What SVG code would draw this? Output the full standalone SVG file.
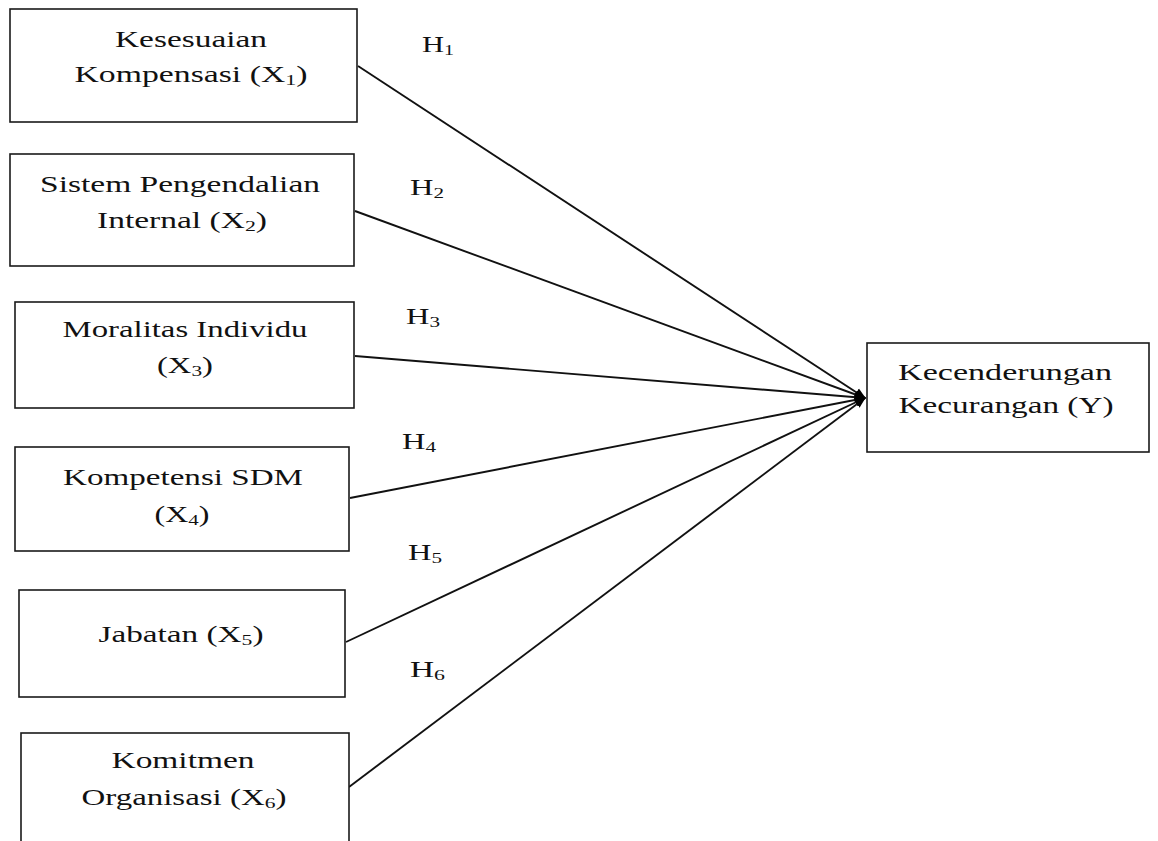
<svg xmlns="http://www.w3.org/2000/svg" width="1158" height="841" viewBox="0 0 1158 841">
<style>
.box{fill:#fff;stroke:#1a1a1a;stroke-width:1.6}
.t{font-family:"Liberation Serif","Times New Roman",serif;font-size:23px;fill:#111;text-anchor:middle}
.h{font-family:"Liberation Serif","Times New Roman",serif;font-size:23px;fill:#111}
.sub{font-size:15px}
.c{stroke:#111;stroke-width:1.9;fill:none}
</style>
<defs>
<marker id="ah" viewBox="0 0 10 10" refX="9" refY="5" markerWidth="6" markerHeight="6" markerUnits="strokeWidth" orient="auto">
<path d="M0,1 L10,5 L0,9 Z" fill="#000"/>
</marker>
</defs>
<rect width="1158" height="841" fill="#fff"/>
<g id="connectors">
<line class="c" x1="358" y1="66" x2="865" y2="398" marker-end="url(#ah)"/>
<line class="c" x1="355" y1="211" x2="865" y2="398" marker-end="url(#ah)"/>
<line class="c" x1="355" y1="356" x2="865" y2="398" marker-end="url(#ah)"/>
<line class="c" x1="350" y1="498" x2="865" y2="398" marker-end="url(#ah)"/>
<line class="c" x1="346" y1="642" x2="865" y2="398" marker-end="url(#ah)"/>
<line class="c" x1="349" y1="787" x2="865" y2="398" marker-end="url(#ah)"/>
<text class="h" x="422" y="52" textLength="32" lengthAdjust="spacingAndGlyphs">H<tspan class="sub" dy="3">1</tspan></text>
<text class="h" x="410" y="195" textLength="34" lengthAdjust="spacingAndGlyphs">H<tspan class="sub" dy="3">2</tspan></text>
<text class="h" x="406" y="324" textLength="34" lengthAdjust="spacingAndGlyphs">H<tspan class="sub" dy="3">3</tspan></text>
<text class="h" x="402" y="449" textLength="34" lengthAdjust="spacingAndGlyphs">H<tspan class="sub" dy="3">4</tspan></text>
<text class="h" x="408" y="560" textLength="34" lengthAdjust="spacingAndGlyphs">H<tspan class="sub" dy="3">5</tspan></text>
<text class="h" x="410" y="677" textLength="35" lengthAdjust="spacingAndGlyphs">H<tspan class="sub" dy="3">6</tspan></text>
</g>
<g id="x1">
<rect class="box" x="10" y="9" width="347" height="113"/>
<text class="t" x="191" y="47" textLength="152" lengthAdjust="spacingAndGlyphs">Kesesuaian</text>
<text class="t" x="191" y="82" textLength="233" lengthAdjust="spacingAndGlyphs">Kompensasi (X<tspan class="sub" dy="3">1</tspan><tspan dy="-3">)</tspan></text>
</g>
<g id="x2">
<rect class="box" x="10" y="154" width="344" height="112"/>
<text class="t" x="180" y="192" textLength="280" lengthAdjust="spacingAndGlyphs">Sistem Pengendalian</text>
<text class="t" x="182" y="228" textLength="170" lengthAdjust="spacingAndGlyphs">Internal (X<tspan class="sub" dy="3">2</tspan><tspan dy="-3">)</tspan></text>
</g>
<g id="x3">
<rect class="box" x="15" y="302" width="339" height="106"/>
<text class="t" x="185" y="337" textLength="245" lengthAdjust="spacingAndGlyphs">Moralitas Individu</text>
<text class="t" x="185" y="373" textLength="56" lengthAdjust="spacingAndGlyphs">(X<tspan class="sub" dy="3">3</tspan><tspan dy="-3">)</tspan></text>
</g>
<g id="x4">
<rect class="box" x="15" y="447" width="334" height="104"/>
<text class="t" x="183" y="485" textLength="240" lengthAdjust="spacingAndGlyphs">Kompetensi SDM</text>
<text class="t" x="182" y="522" textLength="55" lengthAdjust="spacingAndGlyphs">(X<tspan class="sub" dy="3">4</tspan><tspan dy="-3">)</tspan></text>
</g>
<g id="x5">
<rect class="box" x="19" y="590" width="326" height="107"/>
<text class="t" x="181" y="642" textLength="165" lengthAdjust="spacingAndGlyphs">Jabatan (X<tspan class="sub" dy="3">5</tspan><tspan dy="-3">)</tspan></text>
</g>
<g id="x6">
<rect class="box" x="21" y="733" width="328" height="130"/>
<text class="t" x="183" y="768" textLength="143" lengthAdjust="spacingAndGlyphs">Komitmen</text>
<text class="t" x="184" y="805" textLength="205" lengthAdjust="spacingAndGlyphs">Organisasi (X<tspan class="sub" dy="3">6</tspan><tspan dy="-3">)</tspan></text>
</g>
<g id="y">
<rect class="box" x="867" y="343" width="282" height="109"/>
<text class="t" x="1005" y="380" textLength="214" lengthAdjust="spacingAndGlyphs">Kecenderungan</text>
<text class="t" x="1006" y="413" textLength="215" lengthAdjust="spacingAndGlyphs">Kecurangan (Y)</text>
</g>
</svg>
